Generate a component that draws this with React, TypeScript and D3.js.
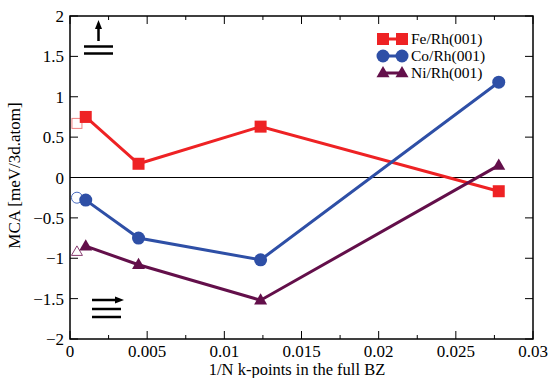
import React from "react";
import * as d3 from "d3";

// 1/N sampling of the Brillouin zone
const kpoints = [0.00102, 0.00444, 0.01235, 0.02778];
const extrapolatedK = 0.00045;

const feValues = [0.75, 0.17, 0.63, -0.17];
const coValues = [-0.28, -0.75, -1.02, 1.18];
const niValues = [-0.85, -1.08, -1.52, 0.15];

const feExtrapolated = 0.67;
const coExtrapolated = -0.25;
const niExtrapolated = -0.92;

const seriesNames = ["Fe/Rh(001)", "Co/Rh(001)", "Ni/Rh(001)"];
const xTicks = [0, 0.005, 0.01, 0.015, 0.02, 0.025, 0.03];
const xTickLabels = ["0", "0.005", "0.01", "0.015", "0.02", "0.025", "0.03"];
const yTicks = [-2, -1.5, -1, -0.5, 0, 0.5, 1, 1.5, 2];
const yTickLabels = ["\u22122", "\u22121.5", "\u22121", "\u22120.5", "0", "0.5", "1", "1.5", "2"];

const W = 550;
const H = 378;
const M = { left: 70, right: 17, top: 16, bottom: 39 };
const FONT = "'Liberation Serif', 'DejaVu Serif', serif";

const COLORS = ["#ee2224", "#2e4fa6", "#630f4a"];
const OPEN_COLORS = ["#f08080", "#4a6cc0", "#8a3f72"];

type Shape = "square" | "circle" | "triangle";
const SHAPES: Shape[] = ["square", "circle", "triangle"];

function Marker({ shape, x, y, color, open }: { shape: Shape; x: number; y: number; color: string; open?: boolean }) {
  const fill = open ? "white" : color;
  const stroke = color;
  const sw = open ? 1 : 0;
  if (shape === "square") {
    const s = open ? 10 : 12;
    return <rect x={x - s / 2} y={y - s / 2} width={s} height={s} fill={fill} stroke={stroke} strokeWidth={sw} />;
  }
  if (shape === "circle") {
    return <circle cx={x} cy={y} r={open ? 5.5 : 6.5} fill={fill} stroke={stroke} strokeWidth={sw} />;
  }
  const s = open ? 11 : 13;
  const h = s * 0.866;
  const pts = [
    [x, y - h * 0.62],
    [x - s / 2, y + h * 0.38],
    [x + s / 2, y + h * 0.38],
  ]
    .map((p) => p.join(","))
    .join(" ");
  return <polygon points={pts} fill={fill} stroke={stroke} strokeWidth={sw} />;
}

export default function App() {
  const x = d3.scaleLinear().domain([0, 0.03]).range([M.left, W - M.right]);
  const y = d3.scaleLinear().domain([-2, 2]).range([H - M.bottom, M.top]);

  const allSeries = [feValues, coValues, niValues];
  const extrapolated = [feExtrapolated, coExtrapolated, niExtrapolated];

  const line = d3
    .line<[number, number]>()
    .x((d) => x(d[0]))
    .y((d) => y(d[1]));

  const minorX = d3.range(0.0025, 0.03, 0.005);
  const x0 = M.left;
  const x1 = W - M.right;
  const y0 = H - M.bottom;
  const y1 = M.top;

  return (
    <svg width={W} height={H} style={{ position: "absolute", left: 0, top: 0, background: "white" }}>
      {/* zero line */}
      <line x1={x0} x2={x1} y1={y(0)} y2={y(0)} stroke="black" strokeWidth={1} />

      {/* x ticks, bottom and top */}
      {xTicks.map((t, i) => (
        <g key={"xt" + i}>
          <line x1={x(t)} x2={x(t)} y1={y0} y2={y0 - 8} stroke="black" strokeWidth={1} />
          <line x1={x(t)} x2={x(t)} y1={y1} y2={y1 + 8} stroke="black" strokeWidth={1} />
          <text x={x(t)} y={y0 + 18} textAnchor="middle" fontFamily={FONT} fontSize={17} fill="black">
            {xTickLabels[i]}
          </text>
        </g>
      ))}
      {minorX.map((t, i) => (
        <g key={"xm" + i}>
          <line x1={x(t)} x2={x(t)} y1={y0} y2={y0 - 4} stroke="black" strokeWidth={1} />
          <line x1={x(t)} x2={x(t)} y1={y1} y2={y1 + 4} stroke="black" strokeWidth={1} />
        </g>
      ))}

      {/* y ticks, left and right */}
      {yTicks.map((t, i) => (
        <g key={"yt" + i}>
          <line x1={x0} x2={x0 + 8} y1={y(t)} y2={y(t)} stroke="black" strokeWidth={1} />
          <line x1={x1} x2={x1 - 8} y1={y(t)} y2={y(t)} stroke="black" strokeWidth={1} />
          <text x={x0 - 6} y={y(t) + 6} textAnchor="end" fontFamily={FONT} fontSize={17} fill="black">
            {yTickLabels[i]}
          </text>
        </g>
      ))}

      {/* frame */}
      <rect x={x0} y={y1} width={x1 - x0} height={y0 - y1} fill="none" stroke="black" strokeWidth={1.5} />

      {/* series lines and markers */}
      {allSeries.map((vals, si) => {
        const pts: [number, number][] = kpoints.map((k, j) => [k, vals[j]]);
        return (
          <g key={"s" + si}>
            <path d={line(pts) ?? ""} fill="none" stroke={COLORS[si]} strokeWidth={3} />
            <Marker shape={SHAPES[si]} x={x(extrapolatedK)} y={y(extrapolated[si])} color={OPEN_COLORS[si]} open />
            {pts.map((p, j) => (
              <Marker key={j} shape={SHAPES[si]} x={x(p[0])} y={y(p[1])} color={COLORS[si]} />
            ))}
          </g>
        );
      })}

      {/* legend */}
      {seriesNames.map((name, i) => {
        const ly = 39 + i * 17;
        return (
          <g key={"lg" + i}>
            <line x1={383} x2={402} y1={ly} y2={ly} stroke={COLORS[i]} strokeWidth={3} />
            <Marker shape={SHAPES[i]} x={383} y={ly} color={COLORS[i]} />
            <Marker shape={SHAPES[i]} x={402} y={ly} color={COLORS[i]} />
            <text x={411} y={ly + 5} fontFamily={FONT} fontSize={15.5} fill="black">
              {name}
            </text>
          </g>
        );
      })}

      {/* out-of-plane moment symbol */}
      <g stroke="black" strokeWidth={2.5}>
        <line x1={98.5} x2={98.5} y1={41} y2={27} />
        <line x1={84} x2={113} y1={46.5} y2={46.5} />
        <line x1={84} x2={113} y1={53.5} y2={53.5} />
      </g>
      <polygon points="98.5,20 95,29 102,29" fill="black" />

      {/* in-plane moment symbol */}
      <g stroke="black" strokeWidth={2.5}>
        <line x1={92} x2={118} y1={300} y2={300} />
        <line x1={92} x2={121} y1={309} y2={309} />
        <line x1={92} x2={121} y1={317} y2={317} />
      </g>
      <polygon points="124,300 115,296.5 115,303.5" fill="black" />

      {/* axis titles */}
      <text x={297} y={H - 3} textAnchor="middle" fontFamily={FONT} fontSize={16.5} fill="black">
        1/N k-points in the full BZ
      </text>
      <text
        transform={`translate(20, ${(y0 + y1) / 2 - 2}) rotate(-90)`}
        textAnchor="middle"
        fontFamily={FONT}
        fontSize={17}
        fill="black"
      >
        MCA [meV/3d.atom]
      </text>
    </svg>
  );
}
